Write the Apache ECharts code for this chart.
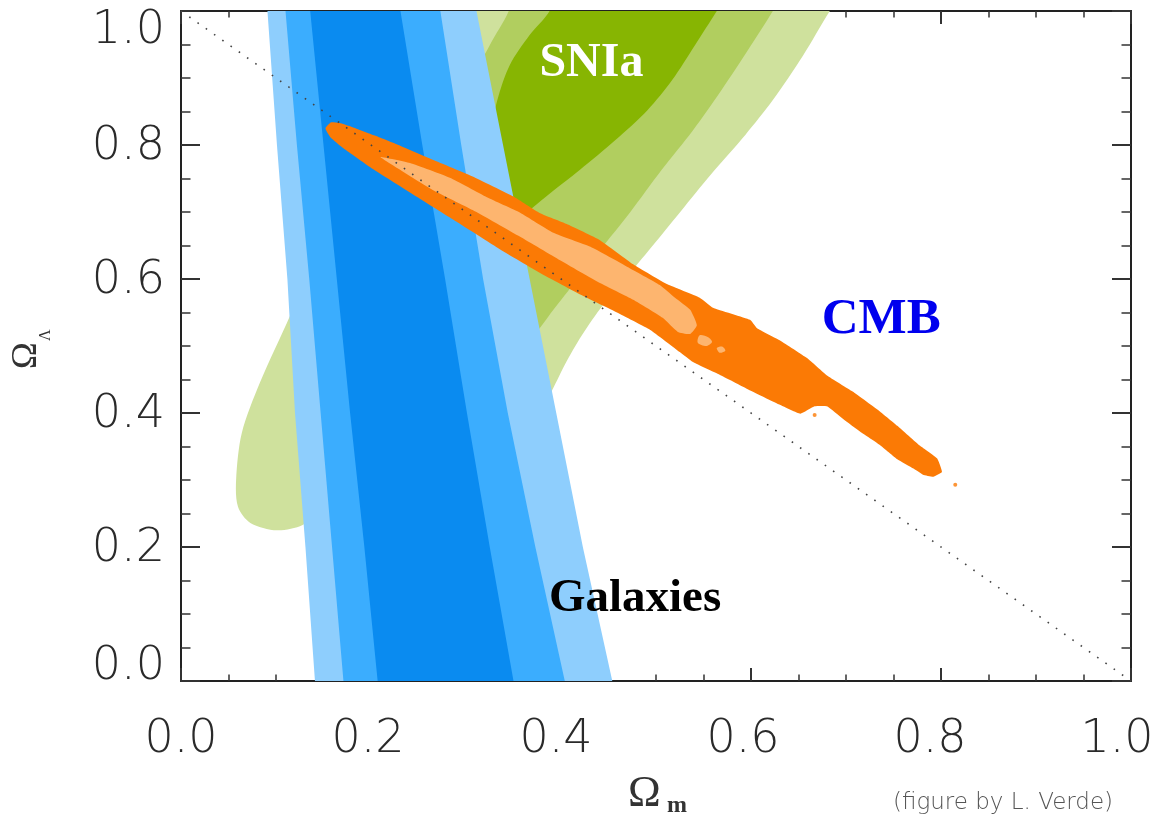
<!DOCTYPE html>
<html>
<head>
<meta charset="utf-8">
<script src="https://cdn.jsdelivr.net/npm/echarts@6/dist/echarts.min.js"></script>
<style>html,body{margin:0;padding:0;background:#fff}#c{width:1168px;height:824px}</style>
</head>
<body>
<div id="c"></div>
<script>
// ---- axis ticks ----
const xTicks = [0.0, 0.2, 0.4, 0.6, 0.8, 1.0];
const yTicks = [0.0, 0.2, 0.4, 0.6, 0.8, 1.0];

// ---- Galaxies (blue) confidence bands: [Omega_m, Omega_L] ----
const galLight = [[0.141,0],[0.131,0.2],[0.120,0.4],[0.112,0.6],[0.101,0.8],[0.091,1.0],
                  [0.311,1.0],[0.339,0.8],[0.367,0.6],[0.395,0.4],[0.423,0.2],[0.454,0]];
const galMedium = [[0.171,0],[0.159,0.2],[0.147,0.4],[0.135,0.6],[0.122,0.8],[0.110,1.0],
                   [0.273,1.0],[0.295,0.8],[0.318,0.6],[0.344,0.4],[0.373,0.2],[0.404,0]];
const galDark = [[0.207,0],[0.193,0.2],[0.178,0.4],[0.164,0.6],[0.150,0.8],[0.136,1.0],
                 [0.231,1.0],[0.254,0.8],[0.278,0.6],[0.301,0.4],[0.325,0.2],[0.350,0]];

// ---- SNIa (green) contours ----
const snLight = [[0.712,1.060],[0.683,1.0],[0.655,0.934],[0.623,0.867],[0.594,0.815],[0.562,0.763],
  [0.530,0.708],[0.499,0.654],[0.471,0.606],[0.444,0.561],[0.422,0.516],[0.404,0.472],[0.388,0.427],
  [0.367,0.382],[0.315,0.345],[0.231,0.300],[0.157,0.263],[0.128,0.233],[0.101,0.225],[0.073,0.236],
  [0.060,0.260],[0.058,0.300],[0.064,0.370],[0.083,0.445],[0.115,0.546],[0.157,0.688],[0.209,0.837],
  [0.262,1.0],[0.280,1.060]];
const snMedium = [[0.648,1.060],[0.623,1.0],[0.597,0.942],[0.569,0.882],[0.539,0.822],[0.506,0.763],
  [0.473,0.700],[0.441,0.643],[0.415,0.596],[0.392,0.554],[0.367,0.509],[0.325,0.464],[0.294,0.449],
  [0.285,0.718],[0.305,0.890],[0.325,0.949],[0.345,1.0],[0.358,1.060]];
const snDark = [[0.590,1.060],[0.564,1.0],[0.541,0.949],[0.517,0.897],[0.491,0.852],[0.457,0.807],
  [0.420,0.763],[0.386,0.725],[0.362,0.696],[0.341,0.666],[0.325,0.703],[0.327,0.822],[0.333,0.867],
  [0.346,0.919],[0.367,0.964],[0.388,1.0],[0.405,1.060]];

// ---- CMB (orange) contours ----
const cmbOuter = [[0.152,0.825],[0.158,0.834],[0.167,0.833],[0.178,0.828],[0.204,0.814],[0.227,0.801],
  [0.265,0.778],[0.307,0.753],[0.350,0.723],[0.378,0.698],[0.406,0.682],[0.441,0.658],[0.476,0.622],
  [0.512,0.592],[0.546,0.572],[0.560,0.557],[0.599,0.539],[0.606,0.527],[0.631,0.508],[0.659,0.482],
  [0.680,0.456],[0.707,0.432],[0.736,0.402],[0.754,0.381],[0.778,0.351],[0.796,0.332],[0.801,0.312],
  [0.792,0.305],[0.781,0.308],[0.771,0.317],[0.754,0.331],[0.736,0.352],[0.715,0.372],[0.697,0.391],
  [0.680,0.410],[0.667,0.410],[0.652,0.399],[0.631,0.412],[0.596,0.436],[0.567,0.457],[0.539,0.476],
  [0.525,0.491],[0.494,0.524],[0.459,0.550],[0.423,0.575],[0.378,0.609],[0.336,0.644],[0.286,0.689],
  [0.241,0.729],[0.202,0.764],[0.171,0.795],[0.157,0.812]];
const cmbInner = [[0.210,0.782],[0.241,0.773],[0.283,0.751],[0.322,0.722],[0.357,0.699],[0.392,0.669],
  [0.431,0.648],[0.470,0.618],[0.504,0.591],[0.520,0.572],[0.536,0.554],[0.543,0.531],[0.536,0.518],
  [0.523,0.521],[0.507,0.542],[0.476,0.569],[0.441,0.594],[0.399,0.628],[0.357,0.663],[0.307,0.703],
  [0.265,0.733],[0.217,0.775]];
const cmbInnerBlob1 = [[0.546,0.516],[0.555,0.513],[0.559,0.506],[0.553,0.500],[0.544,0.505]];
const cmbInnerBlob2 = [[0.564,0.497],[0.570,0.499],[0.573,0.493],[0.567,0.490]];
const cmbDots = [[0.667,0.397],[0.815,0.293]];

// ---- flat-universe line ----
const flatLine = [[0.0,1.0],[1.0,0.0]];

// ---- annotations ----
const labels = [
  {name:'SNIa', pos:[0.432,0.921], color:'#ffffff', size:48},
  {name:'CMB', pos:[0.737,0.539], color:'#0000ee', size:51},
  {name:'Galaxies', pos:[0.478,0.122], color:'#000000', size:47}
];
// pixel nudges that mimic the reference's label placement
const xLabelShift = [0, -3, -5, -8, -11, -14];

function poly(pts, color, z, smooth) {
  return {
    type:'custom', z:z, clip:true, silent:true, animation:false,
    data: pts, encode:{x:0, y:1},
    renderItem: function(params, api) {
      if (params.dataIndex !== 0) return null;
      const points = pts.map(function(p){ return api.coord(p); });
      return {type:'polygon', shape:{points:points, smooth:smooth||0}, style:{fill:color, stroke:null}};
    }
  };
}

const chart = echarts.init(document.getElementById('c'), null, {renderer:'canvas'});
const tickFont = {fontFamily:'DejaVu Sans', fontWeight:200, fontSize:46, color:'#2a2a2a'};
const xRich = {}, yRich = {};
xLabelShift.forEach(function(s, i){
  xRich['x'+i] = Object.assign({padding:[0, -2*s, 0, 0]}, tickFont);
});
yRich.n = Object.assign({padding:[4,0,0,0]}, tickFont);
yRich.t = Object.assign({padding:[41,0,0,0]}, tickFont);
yRich.b = Object.assign({padding:[0,0,27,0]}, tickFont);

const axisCommon = {
  type:'value', min:0, max:1, interval:0.2,
  splitLine:{show:false},
  axisLine:{show:true, onZero:false, lineStyle:{color:'#222', width:2}}
};
const option = {
  animation:false,
  backgroundColor:'#ffffff',
  grid:{left:181, right:37, top:11, bottom:143, containLabel:false},
  xAxis:[
    Object.assign({}, axisCommon, {position:'bottom',
      axisTick:{show:true, inside:true, length:13, lineStyle:{color:'#333', width:2}},
      minorTick:{show:true, splitNumber:4, length:6.5, lineStyle:{color:'#333', width:1.5}},
      axisLabel:Object.assign({margin:36, rich:xRich,
        formatter:function(v){ const i = Math.round(v/0.2); return '{x'+i+'|'+v.toFixed(1)+'}'; }}, tickFont)}),
    Object.assign({}, axisCommon, {position:'top',
      axisTick:{show:true, inside:true, length:13, lineStyle:{color:'#333', width:2}},
      minorTick:{show:true, splitNumber:4, length:6.5, lineStyle:{color:'#333', width:1.5}},
      axisLabel:{show:false}})
  ],
  yAxis:[
    Object.assign({}, axisCommon, {position:'left',
      axisTick:{show:true, inside:true, length:19, lineStyle:{color:'#333', width:2}},
      minorTick:{show:true, splitNumber:4, length:9.5, lineStyle:{color:'#333', width:1.5}},
      axisLabel:Object.assign({margin:16, rich:yRich,
        formatter:function(v){
          const k = v >= 0.999 ? 't' : (v <= 0.001 ? 'b' : 'n');
          return '{'+k+'|'+v.toFixed(1)+'}';
        }}, tickFont)}),
    Object.assign({}, axisCommon, {position:'right',
      axisTick:{show:true, inside:true, length:19, lineStyle:{color:'#333', width:2}},
      minorTick:{show:true, splitNumber:4, length:9.5, lineStyle:{color:'#333', width:1.5}},
      axisLabel:{show:false}})
  ],
  series:[
    poly(snLight, '#cfe19d', 1, 0.3),
    poly(snMedium, '#b1ce5f', 2, 0.3),
    poly(snDark, '#87b502', 3, 0.3),
    poly(galLight, '#8ecefd', 4, 0),
    poly(galMedium, '#3badfe', 5, 0),
    poly(galDark, '#0a8bf0', 6, 0),
    poly(cmbOuter, '#fb7a05', 7, 0.12),
    poly(cmbInner, '#fdb56f', 8, 0.15),
    poly(cmbInnerBlob1, '#fdb56f', 8, 0.3),
    poly(cmbInnerBlob2, '#fdb56f', 8, 0.3),
    {type:'scatter', z:8, data:cmbDots, symbolSize:4, itemStyle:{color:'#fb7a05'}, silent:true},
    {type:'line', z:9, data:flatLine, symbol:'none', silent:true,
     lineStyle:{color:'#444', width:1.6, type:[1.6,8.5]}},
    {type:'custom', z:10, silent:true, data:labels.map(function(l){return l.pos;}),
     encode:{x:0,y:1},
     renderItem:function(params, api){
       const l = labels[params.dataIndex];
       const p = api.coord(l.pos);
       return {type:'text', x:p[0], y:p[1], style:{text:l.name, fill:l.color,
         font:'bold '+l.size+'px "Liberation Serif"', align:'center', verticalAlign:'middle'}};
     }}
  ],
  graphic:[
    {type:'text', left:628, top:772, style:{text:'Ω', font:'44px "Liberation Serif"', fill:'#333'}},
    {type:'text', left:667, top:794, style:{text:'m', font:'bold 24px "Liberation Serif"', fill:'#333'}},
    {type:'text', x:9, y:369, rotation:Math.PI/2,
     style:{text:'Ω', font:'36px "Liberation Serif"', fill:'#333', align:'left', verticalAlign:'top'}},
    {type:'text', x:38, y:341, rotation:Math.PI/2,
     style:{text:'Λ', font:'16px "Liberation Serif"', fill:'#333', align:'left', verticalAlign:'top'}},
    {type:'text', left:893, top:792, style:{text:'(figure by L. Verde)', font:'200 23px "DejaVu Sans"', fill:'#555'}}
  ]
};
chart.setOption(option);
</script>
</body>
</html>
